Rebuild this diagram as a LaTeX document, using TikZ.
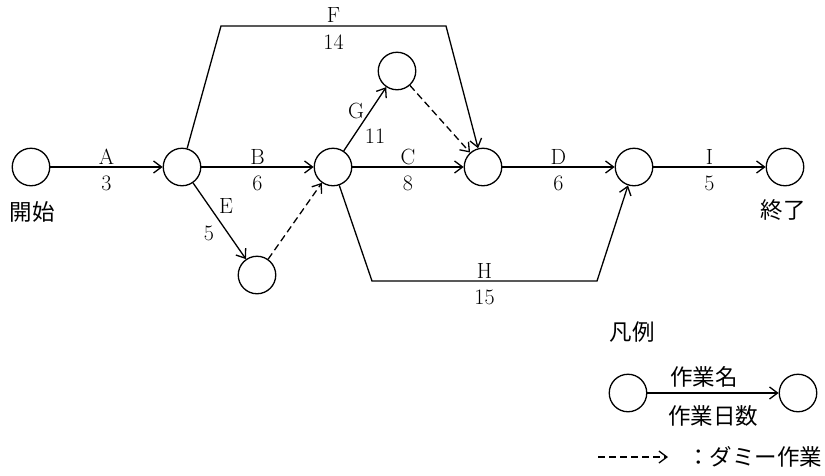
\documentclass[tikz,border=0pt]{standalone}
\usepackage{fontspec}
\newfontfamily\jp{Noto Sans CJK JP}
\usetikzlibrary{arrows.meta}
\begin{document}
\begin{tikzpicture}[x=1pt,y=-1pt,line width=1.3pt,
  ev/.style={circle,draw,minimum size=37.5pt,inner sep=0pt},
  act/.style={-{Straight Barb[length=8pt,width=12pt]}},
  dummy/.style={act,dash pattern=on 7pt off 4pt},
  lbl/.style={font=\fontsize{22}{22}\selectfont,inner sep=0pt},
  up/.style={lbl,yshift=10.5pt},
  dn/.style={lbl,yshift=-16.5pt},
  jlbl/.style={font=\fontsize{22.5}{22.5}\selectfont\jp,inner sep=0pt}]
\useasboundingbox (0,0) rectangle (825,475);
% events
\node[ev] (s)  at (31,167) {};
\node[ev] (n2) at (182,167) {};
\node[ev] (n3) at (397,71) {};
\node[ev] (n4) at (333,167) {};
\node[ev] (n5) at (483,167) {};
\node[ev] (n6) at (634,167) {};
\node[ev] (n7) at (785,167) {};
\node[ev] (n8) at (257,275) {};
% bend points
\coordinate (f1) at (221,26);
\coordinate (f2) at (446,26);
\coordinate (h1) at (372,281);
\coordinate (h2) at (597,281);
% activities
\draw[act] (s) -- node[up]{A} node[dn]{3} (n2);
\draw[act] (n2) -- node[up]{B} node[dn]{6} (n4);
\draw[act] (n4) -- node[up]{C} node[dn]{8} (n5);
\draw[act] (n5) -- node[up]{D} node[dn]{6} (n6);
\draw[act] (n6) -- node[up]{I} node[dn]{5} (n7);
\draw[act] (n2) -- (f1) -- node[up]{F} node[dn]{14} (f2) -- (n5);
\draw[act] (n4) -- (h1) -- node[up]{H} node[dn]{15} (h2) -- (n6);
\draw[act] (n4) -- (n3);
\draw[act] (n2) -- (n8);
\draw[dummy] (n8) -- (n4);
\draw[dummy] (n3) -- (n5);
\node[lbl] (gl) at (356,111) {G};
\node[lbl] (gd) at (375,136) {11};
\node[lbl] (el) at (226,206) {E};
\node[lbl] (ed) at (209,233) {5};
\node[jlbl] (start) at (32,212) {開始};
\node[jlbl] (fin) at (783,210) {終了};
% legend
\node[jlbl] (leg) at (632,332) {凡例};
\node[ev] (la) at (628,393) {};
\node[ev] (lb) at (798,393) {};
\draw[act] (la) -- (lb);
\node[jlbl] (lname) at (704,377) {作業名};
\node[jlbl] (ldays) at (713,416) {作業日数};
\coordinate (d1) at (598,457);
\coordinate (d2) at (668,457);
\draw[dummy] (d1) -- (d2);
\node[jlbl,anchor=east] (ldum) at (823,457) {：ダミー作業};
\end{tikzpicture}
\end{document}
